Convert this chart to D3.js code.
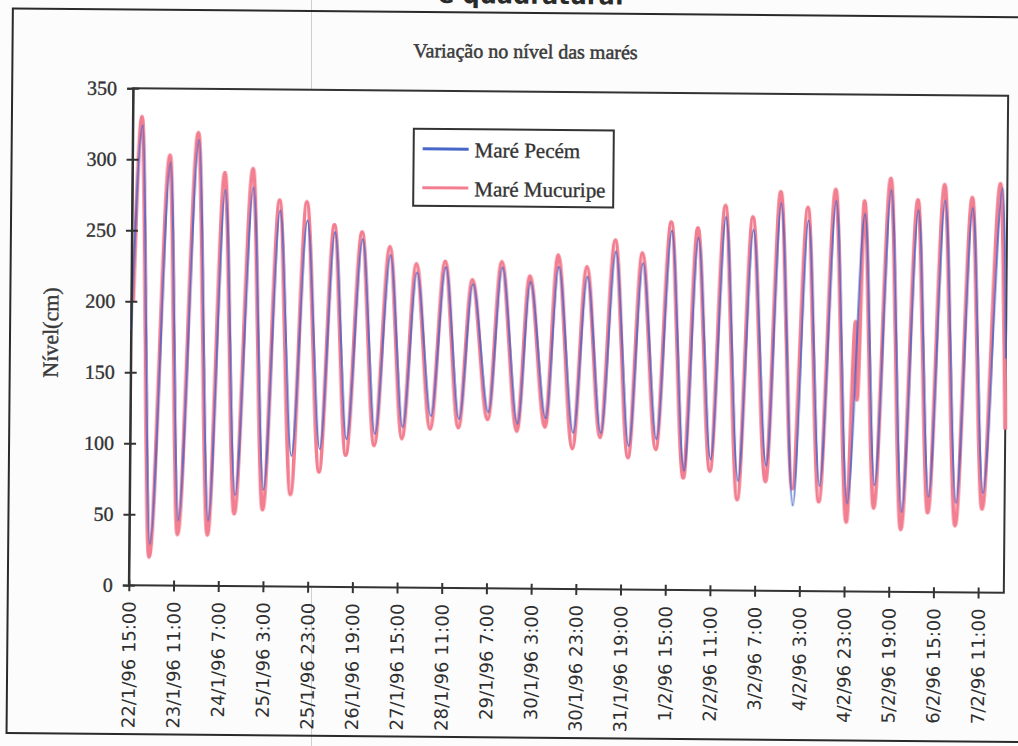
<!DOCTYPE html>
<html>
<head>
<meta charset="utf-8">
<script src="https://cdn.jsdelivr.net/npm/d3@7/dist/d3.min.js"></script>
<style>
  html, body { margin: 0; padding: 0; background: #fcfcfc; }
  svg { display: block; }
</style>
</head>
<body>
<svg id="chart" width="1018" height="746"></svg>
<script>
// ---------------- DATA ----------------
// hours counted from 22/1/96 15:00
const tickHours = [0, 20, 40, 60, 80, 100, 120, 140, 160, 180, 200, 220, 240, 260, 280, 300, 320, 340, 360, 380];
const tickLabels = [
  "22/1/96 15:00", "23/1/96 11:00", "24/1/96 7:00", "25/1/96 3:00", "25/1/96 23:00",
  "26/1/96 19:00", "27/1/96 15:00", "28/1/96 11:00", "29/1/96 7:00", "30/1/96 3:00",
  "30/1/96 23:00", "31/1/96 19:00", "1/2/96 15:00", "2/2/96 11:00", "3/2/96 7:00",
  "4/2/96 3:00", "4/2/96 23:00", "5/2/96 19:00", "6/2/96 15:00", "7/2/96 11:00"
];
const yTicks = [0, 50, 100, 150, 200, 250, 300, 350];
const hourDomain = [0, 391.5];
const levelDomain = [0, 350];

// Maré Mucuripe (pink): successive turning points (hour, level cm)
const mucuripeHours = [
  0.8, 4.1, 8.9, 16.8, 21.5, 29.4, 34.9, 41.4, 46.8, 54.0, 59.5, 66.0, 71.9, 78.2, 84.6,
  90.6, 96.5, 103.0, 109.2, 115.5, 121.6, 127.4, 134.2, 140.3, 146.8, 152.5, 159.9,
  165.6, 173.0, 178.2, 185.6, 190.8, 197.9, 203.7, 210.3, 216.3, 222.8, 228.5, 235.2,
  241.3, 247.6, 253.2, 259.5, 265.5, 271.8, 277.8, 284.4, 290.2, 296.4, 302.4, 308.3,
  314.8, 320.7, 324.2, 325.0, 327.7, 332.9, 339.4, 345.1, 351.6, 357.1, 363.5, 369.4,
  375.9, 381.4, 388.5, 391.5
];
const mucuripeLevels = [
  200, 330, 20, 303, 36, 319, 36, 291, 51, 294, 54, 272, 65, 271, 81,
  255, 93, 250, 100, 240, 105, 228, 112, 230, 113, 217, 119,
  230, 111, 220, 114, 235, 99, 227, 107, 246, 93, 237, 99,
  259, 79, 255, 84, 271, 64, 263, 77, 281, 72, 270, 63,
  283, 49, 190, 135, 275, 59, 291, 44, 276, 56, 287, 47,
  278, 59, 288, 115
];

// Maré Pecém (blue): successive turning points (hour, level cm)
const pecemHours = [
  0.0, 4.4, 9.2, 17.1, 21.8, 29.7, 35.2, 41.7, 47.1, 54.3, 59.8, 66.3, 72.2, 78.5, 84.9,
  90.9, 96.8, 103.3, 109.5, 115.8, 121.9, 127.7, 134.5, 140.6, 147.1, 152.8, 160.2,
  165.9, 173.3, 178.5, 185.9, 191.1, 198.2, 204.0, 210.6, 216.6, 223.1, 228.8, 235.5,
  241.6, 247.9, 253.5, 259.8, 265.8, 272.1, 278.1, 284.7, 290.5, 296.7, 302.7, 308.6,
  315.1, 321.0, 328.0, 333.2, 339.7, 345.4, 351.9, 357.4, 363.8, 369.7,
  376.2, 381.7, 389.5, 391.5
];
const pecemLevels = [
  180, 324, 29, 298, 46, 314, 46, 279, 64, 281, 68, 265, 92, 258, 97,
  250, 104, 245, 108, 234, 113, 222, 121, 226, 119, 214, 124,
  226, 116, 216, 120, 227, 110, 220, 110, 238, 101, 230, 106,
  253, 84, 248, 92, 263, 77, 254, 88, 273, 60, 261, 74,
  275, 62, 266, 75, 283, 56, 269, 67, 276, 63,
  271, 70, 285, 165
];

const seriesNames = ["Maré Pecém", "Maré Mucuripe"];
const seriesColors = ["#4866c8", "#f27e90"];

// ---------------- DRAWING ----------------
const svg = d3.select("#chart");
const W = 1018, H = 746;
const plot = { left: 131, right: 1006, top: 92, bottom: 589 };
const ink = "#333";

// slight scan softness
const defs = svg.append("defs");
defs.append("filter").attr("id", "soft")
  .append("feGaussianBlur").attr("stdDeviation", 0.45);

// scan fold line (outside the tilted page)
svg.append("line")
  .attr("x1", 311.5).attr("x2", 311.5).attr("y1", 0).attr("y2", H)
  .attr("stroke", "#cfcfcf").attr("stroke-width", 1);

// the whole scanned page is tilted slightly
const page = svg.append("g").attr("transform", "rotate(0.5, 568, 340)");

// text from the page above the chart (cut off by the scan)
page.append("text")
  .attr("x", 528).attr("y", 4)
  .attr("text-anchor", "middle")
  .attr("font-family", "DejaVu Sans, sans-serif")
  .attr("font-weight", "bold")
  .attr("font-size", 24)
  .attr("fill", "#2a2a2a")
  .text("e quadratura.");

// outer chart area border
page.append("rect")
  .attr("x", 10).attr("y", 13.3)
  .attr("width", 1040).attr("height", 738 - 13.3)
  .attr("fill", "none").attr("stroke", "#2a2a2a").attr("stroke-width", 2);

// title
page.append("text")
  .attr("x", 523).attr("y", 58.5)
  .attr("text-anchor", "middle")
  .attr("font-family", "Liberation Serif, Times New Roman, serif")
  .attr("font-size", 20)
  .attr("fill", "#3a3a3a")
  .attr("stroke", "#3a3a3a").attr("stroke-width", 0.5)
  .text("Variação no nível das marés");

const x = d3.scaleLinear().domain(hourDomain).range([plot.left, plot.right]);
const y = d3.scaleLinear().domain(levelDomain).range([plot.bottom, plot.top]);

// plot frame
page.append("rect")
  .attr("x", plot.left).attr("y", plot.top)
  .attr("width", plot.right - plot.left).attr("height", plot.bottom - plot.top)
  .attr("fill", "#ffffff").attr("stroke", ink).attr("stroke-width", 2);

// series lines
const line = d3.line()
  .x(d => x(d[0]))
  .y(d => y(d[1]))
  .curve(d3.curveMonotoneX);

const mucuripe = d3.zip(mucuripeHours, mucuripeLevels);
const pecem = d3.zip(pecemHours, pecemLevels);

const lines = page.append("g").attr("filter", "url(#soft)");
lines.append("path")
  .datum(mucuripe)
  .attr("d", line)
  .attr("fill", "none")
  .attr("stroke", seriesColors[1])
  .attr("stroke-width", 4)
  .attr("stroke-linejoin", "round");
lines.append("path")
  .datum(pecem)
  .attr("d", line)
  .attr("fill", "none")
  .attr("stroke", seriesColors[0])
  .attr("stroke-width", 2)
  .attr("stroke-opacity", 0.85)
  .attr("stroke-linejoin", "round");

// y axis
const yAxis = d3.axisLeft(y).tickValues(yTicks).tickSize(6).tickPadding(10).tickFormat(d3.format("d"));
const gy = page.append("g").attr("transform", `translate(${plot.left},0)`).call(yAxis);
gy.select(".domain").attr("stroke", ink).attr("stroke-width", 2);
gy.selectAll(".tick line").attr("stroke", ink).attr("stroke-width", 2)
  .attr("x1", 6);
gy.selectAll(".tick text")
  .attr("font-family", "Liberation Serif, Times New Roman, serif")
  .attr("font-size", 20)
  .attr("fill", "#333")
  .attr("stroke", "#333").attr("stroke-width", 0.35);

// x axis
const xAxis = d3.axisBottom(x).tickValues(tickHours).tickSize(6).tickPadding(0)
  .tickFormat((d, i) => tickLabels[i]);
const gx = page.append("g").attr("transform", `translate(0,${plot.bottom})`).call(xAxis);
gx.select(".domain").remove();
gx.selectAll(".tick line").attr("stroke", ink).attr("stroke-width", 2)
  .attr("y1", -5);
gx.selectAll(".tick text")
  .attr("font-family", "DejaVu Sans, Verdana, sans-serif")
  .attr("font-size", 18)
  .attr("fill", "#2f2f2f")
  .attr("text-anchor", "end")
  .attr("transform", "rotate(-90)")
  .attr("x", -16)
  .attr("y", 0)
  .attr("dy", "0.36em");

// y axis title
page.append("text")
  .attr("transform", "translate(58,337) rotate(-90)")
  .attr("text-anchor", "middle")
  .attr("font-family", "Liberation Serif, Times New Roman, serif")
  .attr("font-size", 22)
  .attr("fill", "#3a3a3a")
  .attr("stroke", "#3a3a3a").attr("stroke-width", 0.4)
  .text("Nível(cm)");

// legend
const lg = page.append("g");
lg.append("rect")
  .attr("x", 412).attr("y", 130).attr("width", 200).attr("height", 77)
  .attr("fill", "#ffffff").attr("stroke", ink).attr("stroke-width", 2);
const legendRows = [150, 189];
seriesNames.forEach((name, i) => {
  lg.append("line")
    .attr("x1", 421).attr("x2", 467)
    .attr("y1", legendRows[i]).attr("y2", legendRows[i])
    .attr("stroke", seriesColors[i]).attr("stroke-width", 3);
  lg.append("text")
    .attr("x", 473).attr("y", legendRows[i] + 8)
    .attr("font-family", "Liberation Serif, Times New Roman, serif")
    .attr("font-size", 21)
    .attr("fill", "#333")
    .attr("stroke", "#333").attr("stroke-width", 0.35)
    .text(name);
});
</script>
</body>
</html>
